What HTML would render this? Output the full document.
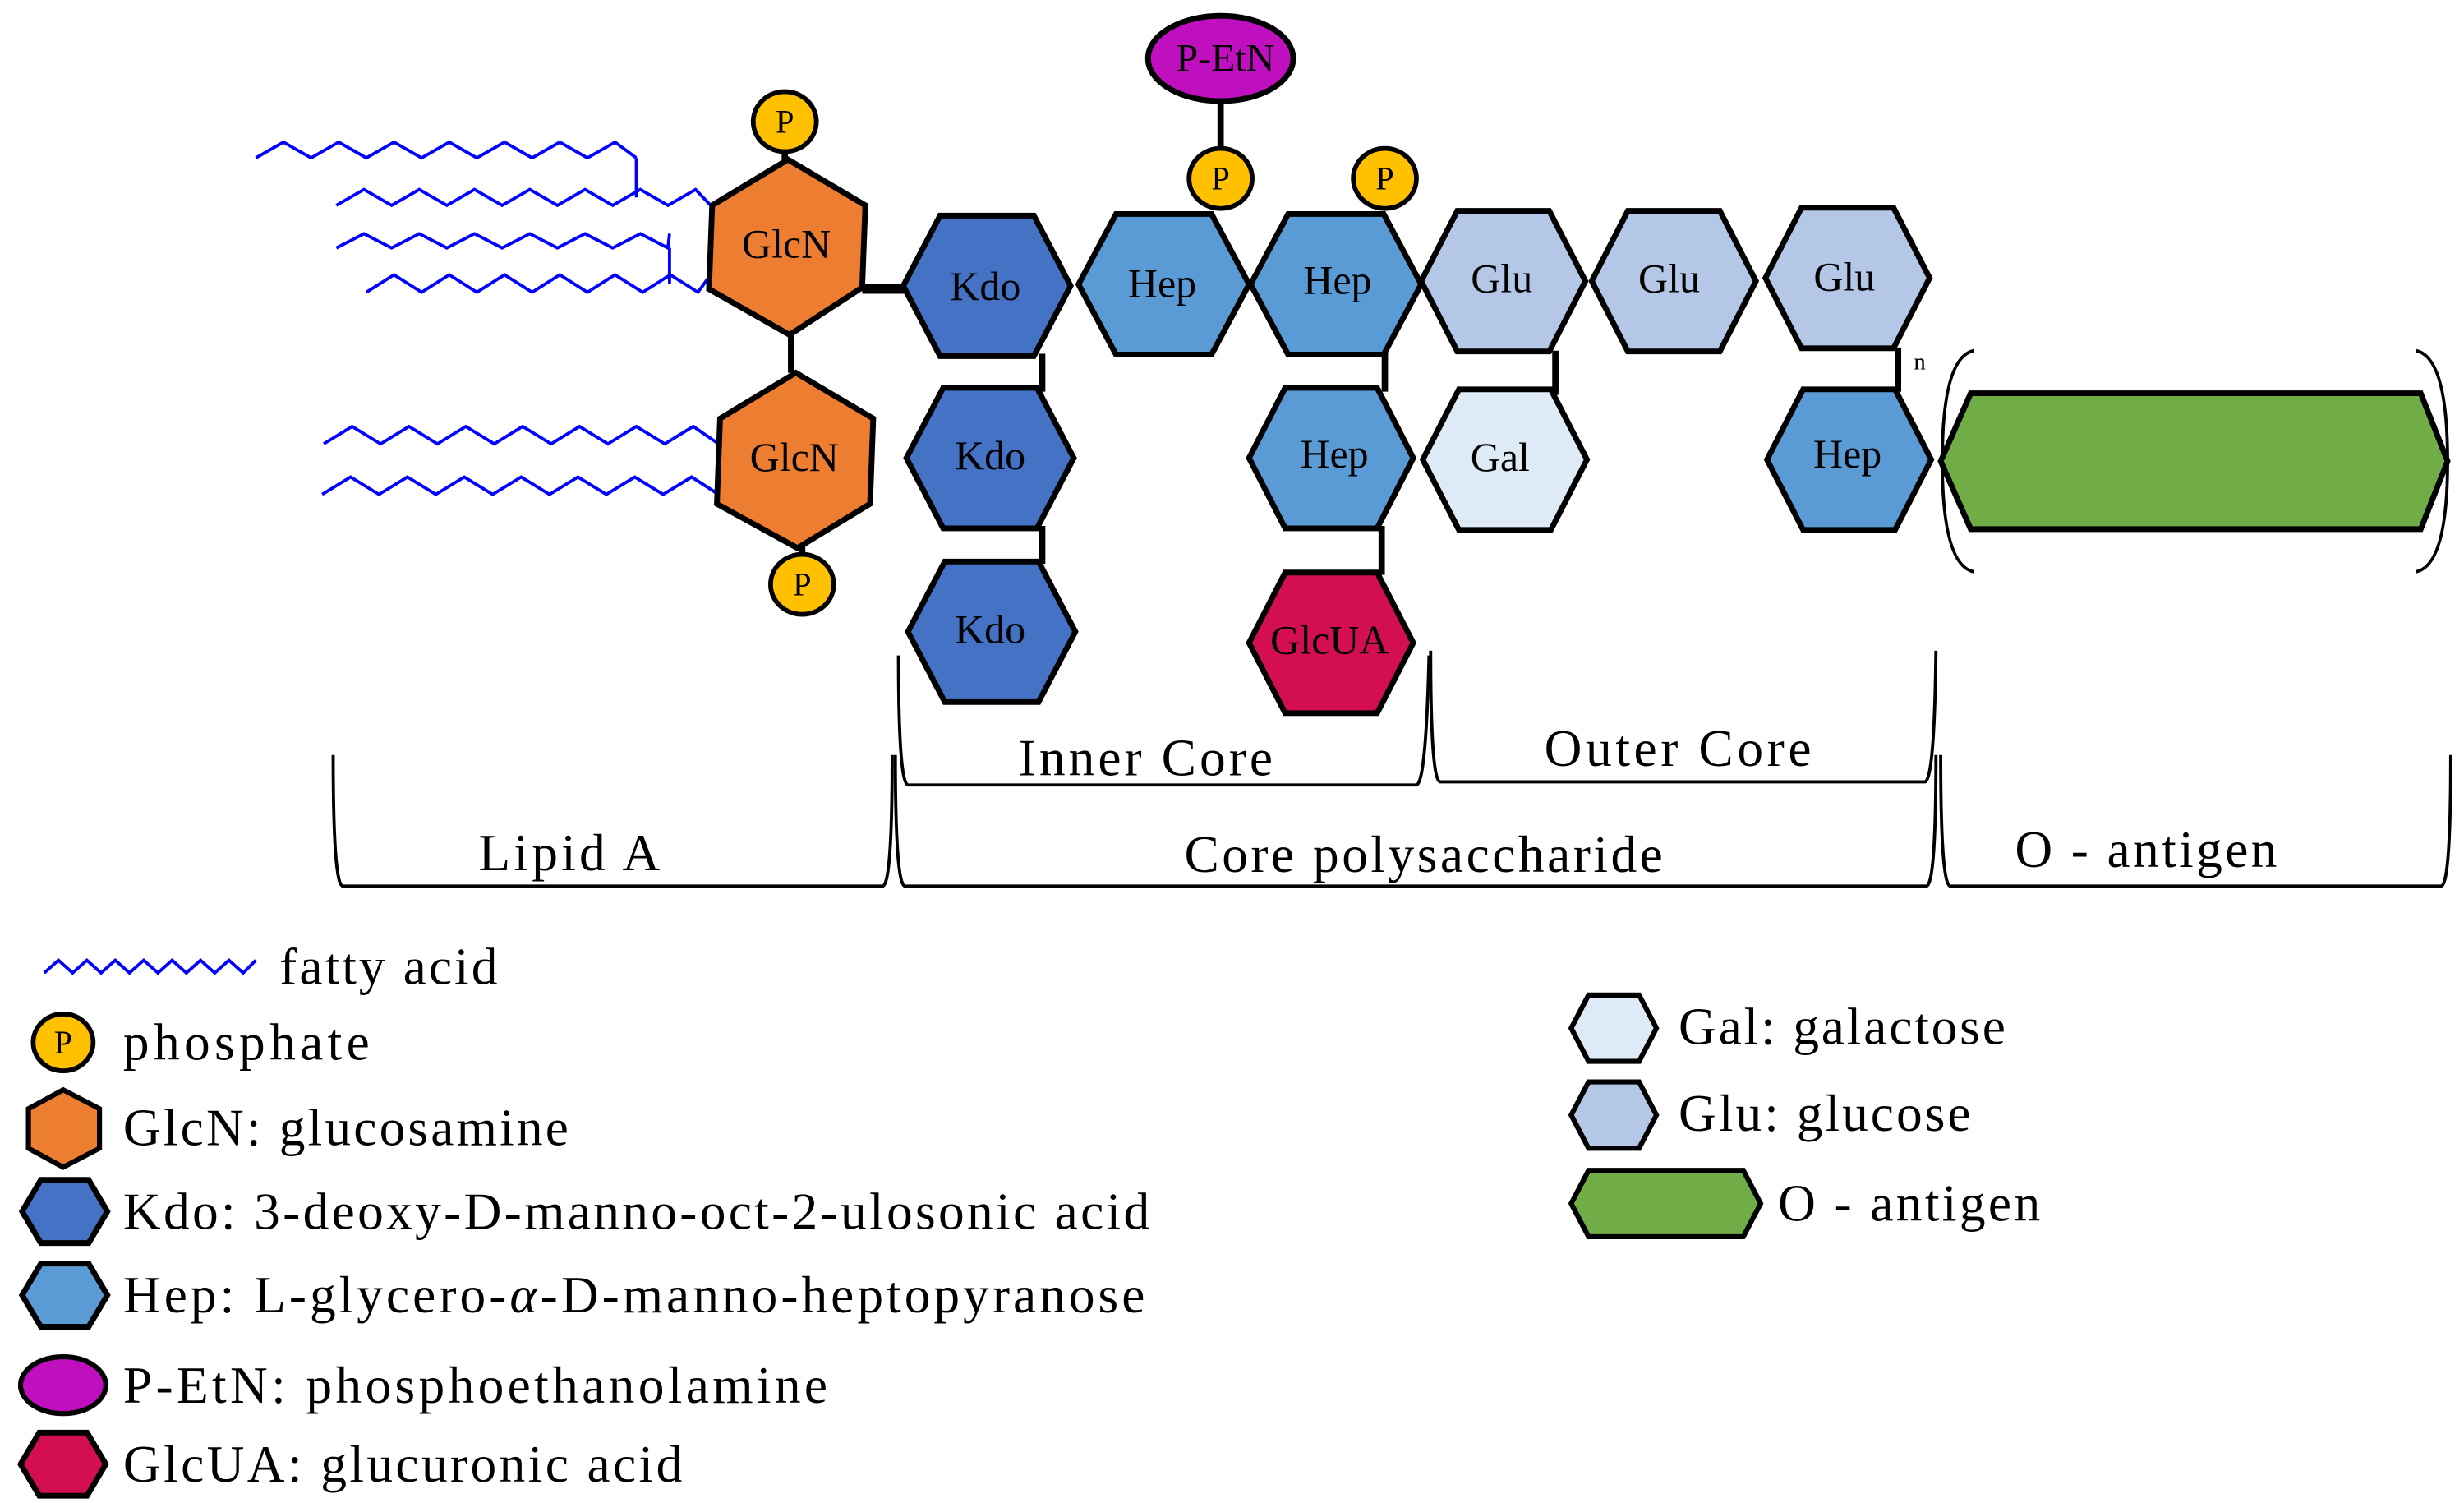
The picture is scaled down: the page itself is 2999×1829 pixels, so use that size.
<!DOCTYPE html>
<html><head><meta charset="utf-8"><style>
html,body{margin:0;padding:0;background:#fff;}
svg{display:block;}
svg text{font-family:"Liberation Serif","DejaVu Serif",serif;fill:#000;}
</style></head><body>
<svg id="s" width="2999" height="1829" viewBox="0 0 1560.4 951.6" preserveAspectRatio="none" xmlns="http://www.w3.org/2000/svg" font-family="Liberation Serif, DejaVu Serif, serif">
<g id="fa" fill="none" stroke="#0000ff" stroke-width="2"></g>
<g stroke="#0000ff" stroke-width="2">
<line x1="403" y1="100" x2="403" y2="125"/>
<line x1="424" y1="157" x2="424" y2="180"/>
</g>
<g stroke="#000" stroke-width="4">
<line x1="546" y1="183" x2="574" y2="183" stroke-width="6"/>
<line x1="501" y1="211" x2="501" y2="236"/>
<line x1="497" y1="96" x2="497" y2="103"/>
<line x1="508" y1="344" x2="508" y2="352"/>
<line x1="660" y1="224" x2="660" y2="248"/>
<line x1="660" y1="333" x2="660" y2="357"/>
<line x1="877" y1="223" x2="877" y2="248"/>
<line x1="875" y1="333" x2="875" y2="364"/>
<line x1="985" y1="222" x2="985" y2="250"/>
<line x1="1202" y1="220" x2="1202" y2="248"/>
<line x1="773" y1="64" x2="773" y2="94"/>
</g>
<g id="hx" stroke="#000" stroke-width="3.6" stroke-linejoin="miter"></g>
<g stroke="#000" stroke-width="3.6" fill="#ed7d31">
<polygon points="499,101 548,130 546,182 500,212 449,183 451,130"/>
<polygon points="504,236 553,265 551,319 505,347 454,319 456,265"/>
</g>
<polygon points="1229,292 1248,249 1533,249 1550,292 1533,335 1248,335" fill="#70ad47" stroke="#000" stroke-width="3.6"/>
<g fill="none" stroke="#000" stroke-width="2">
<path d="M1250,222 Q1230,226 1230,292 Q1230,358 1250,362"/>
<path d="M1530,222 Q1550,226 1550,292 Q1550,358 1530,362"/>
</g>
<text x="1212" y="234" font-size="15">n</text>
<g stroke="#000" stroke-width="3" fill="#ffc000">
<ellipse cx="497" cy="77" rx="20" ry="19"/>
<ellipse cx="508" cy="370" rx="20" ry="19"/>
<ellipse cx="773" cy="113" rx="20" ry="19"/>
<ellipse cx="877" cy="113" rx="20" ry="19"/>
<ellipse cx="40" cy="660" rx="19" ry="18"/>
</g>
<g font-size="21" text-anchor="middle">
<text x="497" y="84">P</text><text x="508" y="377">P</text>
<text x="773" y="120">P</text><text x="877" y="120">P</text>
<text x="40" y="667">P</text>
</g>
<ellipse cx="773" cy="37" rx="46" ry="27" fill="#bf0fbf" stroke="#000" stroke-width="3.6"/>
<text x="776" y="45" font-size="25" text-anchor="middle">P-EtN</text>
<g font-size="26" text-anchor="middle">
<text x="498" y="163">GlcN</text><text x="503" y="298">GlcN</text>
<text x="624" y="190">Kdo</text><text x="627" y="297">Kdo</text><text x="627" y="407">Kdo</text>
<text x="736" y="188">Hep</text><text x="847" y="186">Hep</text>
<text x="845" y="296">Hep</text><text x="1170" y="296">Hep</text>
<text x="951" y="185">Glu</text><text x="1057" y="185">Glu</text><text x="1168" y="184">Glu</text>
<text x="950" y="298">Gal</text><text x="842" y="414">GlcUA</text>
</g>
<g fill="none" stroke="#000" stroke-width="2">
<path d="M211,478 Q211,560 217,561 L559,561 Q565,560 565,478"/>
<path d="M567,478 Q567,560 573,561 L1220,561 Q1226,560 1226,478"/>
<path d="M1229,478 Q1229,560 1235,561 L1546,561 Q1552,560 1552,478"/>
<path d="M569,415 Q569,496 575,497 L897,497 Q903,496 905,415"/>
<path d="M906,412 Q906,494 912,495 L1219,495 Q1225,494 1226,412"/>
</g>
<g font-size="33" lengthAdjust="spacing">
<text x="645" y="491" textLength="161">Inner Core</text>
<text x="978" y="485" textLength="169">Outer Core</text>
<text x="303" y="551" textLength="115">Lipid A</text>
<text x="750" y="552" textLength="303">Core polysaccharide</text>
<text x="1276" y="549" textLength="166">O - antigen</text>
</g>
<g stroke="#000" stroke-width="3.2">
<polygon points="40,690 63,702 63,727 40,739 18,727 18,702" fill="#ed7d31"/>
<ellipse cx="40" cy="877" rx="27" ry="18" fill="#bf0fbf"/>
<polygon points="995,651 1006,630 1038,630 1049,651 1038,672 1006,672" fill="#deebf7"/>
<polygon points="995,706 1006,685 1038,685 1049,706 1038,727 1006,727" fill="#b4c7e7"/>
<polygon points="995,762 1006,741 1104,741 1115,762 1104,783 1006,783" fill="#70ad47"/>
</g>
<g font-size="33">
<text x="177" y="623" textLength="138">fatty acid</text>
<text x="78" y="671" textLength="156">phosphate</text>
<text x="78" y="725" textLength="282">GlcN: glucosamine</text>
<text x="78" y="778" textLength="650">Kdo: 3-deoxy-D-manno-oct-2-ulosonic  acid</text>
<text x="78" y="831" textLength="647">Hep: L-glycero-<tspan font-style="italic">α</tspan>-D-manno-heptopyranose</text>
<text x="78" y="888" textLength="446">P-EtN: phosphoethanolamine</text>
<text x="78" y="938" textLength="354">GlcUA: glucuronic  acid</text>
<text x="1063" y="661" textLength="207">Gal: galactose</text>
<text x="1063" y="716" textLength="185">Glu: glucose</text>
<text x="1126" y="773" textLength="166">O - antigen</text>
</g>
</svg>
<script>
(function(){
var ns="http://www.w3.org/2000/svg";
function zig(x0,x1,yt,yb,per,g){
 var d="M"+x0+","+yb, x=x0, up=true, h=per/2;
 while(x<x1){x=Math.min(x+h,x1); d+=" L"+x+","+(up?yt:yb); up=!up;}
 var p=document.createElementNS(ns,"path");p.setAttribute("d",d);g.appendChild(p);
}
var g=document.getElementById("fa");
zig(162,403,90,100,35,g);
zig(213,450,120,130,35,g);
zig(213,424,148,157,35,g);
zig(232,450,174,185,35,g);
zig(205,455,270,281,36,g);
zig(204,455,302,313,36,g);
zig(28,162,608,616,18,g);
var hx=document.getElementById("hx");
function hex(cx,cy,w,h,fill){
 var dx=w*0.22,a=w/2,b=h/2;
 var pts=[[cx-a,cy],[cx-a+dx,cy-b],[cx+a-dx,cy-b],[cx+a,cy],[cx+a-dx,cy+b],[cx-a+dx,cy+b]].map(function(p){return p.join(",")}).join(" ");
 var p=document.createElementNS(ns,"polygon");p.setAttribute("points",pts);p.setAttribute("fill",fill);hx.appendChild(p);
}
var K="#4472c4",H="#5b9bd5",G="#b4c7e7",GA="#deebf7",U="#d40e52";
hex(625,181,106,89,K);hex(627,290,106,89,K);hex(628,400,106,89,K);
hex(737,180,108,89,H);hex(846,180,108,89,H);
hex(952,178,104,89,G);hex(1060,178,104,89,G);hex(1170,176,104,89,G);
hex(843,290,104,89,H);hex(953,291,104,89,GA);hex(1171,291,104,89,H);
hex(843,407,104,89,U);
hex(41,767,54,40,K);hex(41,820,54,40,H);hex(40,927,54,40,U);
})();
</script>
</body></html>
